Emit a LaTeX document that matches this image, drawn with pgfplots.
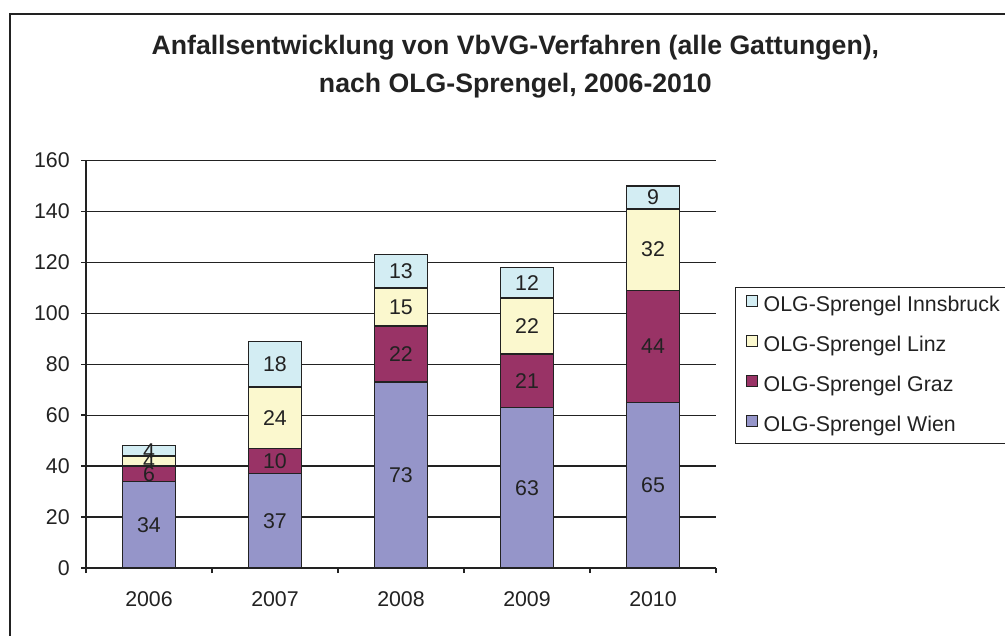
\documentclass[border=0pt]{standalone}
\usepackage{pgfplots}
\pgfplotsset{compat=1.18}
\usepackage{pgfplotstable}
\usepackage{fontspec}
\setmainfont{Liberation Sans}
\definecolor{cWien}{HTML}{9595C9}
\definecolor{cGraz}{HTML}{993366}
\definecolor{cLinz}{HTML}{FBF8CE}
\definecolor{cInn}{HTML}{D3EDF3}
\definecolor{ink}{HTML}{222222}
\pgfplotstableread{
x wien graz linz inn
0 34 6 4 4
1 37 10 24 18
2 73 22 15 13
3 63 21 22 12
4 65 44 32 9
}\datatable
\begin{document}
\begin{tikzpicture}
\clip (0pt,0pt) rectangle (753.75pt,476.25pt);
\fill[white] (0pt,0pt) rectangle (753.75pt,476.25pt);
\draw[ink, line width=1.5pt] (7.5pt,-10pt) rectangle (770pt,465.75pt);
\node[font=\bfseries\fontsize{20pt}{24pt}\selectfont, text=ink, anchor=base] at (386.5pt,435pt) {Anfallsentwicklung von VbVG-Verfahren (alle Gattungen),};
\node[font=\bfseries\fontsize{20pt}{24pt}\selectfont, text=ink, anchor=base] at (386.5pt,406.5pt) {nach OLG-Sprengel, 2006-2010};
\begin{axis}[
  at={(64.5pt,50.25pt)}, anchor=south west,
  scale only axis, width=472.5pt, height=305.625pt,
  ybar stacked, bar width=39.45pt,
  xmin=-0.5, xmax=4.5, ymin=0, ymax=160,
  ytick={0,20,...,160},
  xtick={-0.5,0.5,...,4.5}, xticklabels={},
  extra x ticks={0,1,2,3,4},
  extra x tick labels={2006,2007,2008,2009,2010},
  extra x tick style={major tick length=0pt, grid=none},
  axis x line*=bottom, axis y line*=left,
  axis line style={ink, line width=1.3pt, -},
  tick align=outside, major tick length=3.75pt,
  tick style={ink, line width=1.1pt},
  ymajorgrids, grid style={ink, line width=1.0pt},
  /pgf/number format/assume math mode=true,
  tick label style={font=\fontsize{16pt}{19pt}\selectfont, text=ink},
  yticklabel style={xshift=-5pt},
  xticklabel style={yshift=-14pt},
  nodes near coords={\pgfmathprintnumber{\val}},
  every node near coord/.append style={font=\fontsize{16pt}{19pt}\selectfont, text=ink, anchor=center},
  legend style={at={(486.75pt,210.75pt)}, anchor=north west, draw=ink, line width=0.8pt, fill=white,
     font=\fontsize{16pt}{19pt}\selectfont, text=ink, row sep=14.5pt, inner xsep=7.5pt, inner ysep=5.75pt,
     nodes={inner sep=0pt, text height=11.5pt, text depth=3pt, anchor=west},
     /tikz/every odd column/.append style={column sep=4.5pt}},
  legend cell align=left,
  reverse legend,
  area legend,
  legend image code/.code={\draw[#1, line width=0.9pt] (0pt,-0.5pt) rectangle (8.25pt,7.75pt);},
  clip=false,
]
\addplot[draw=ink, line width=1.1pt, fill=cWien, visualization depends on={\thisrow{wien} \as \val}] table[x=x, y=wien] {\datatable};
\addplot[draw=ink, line width=1.1pt, fill=cGraz, visualization depends on={\thisrow{graz} \as \val}] table[x=x, y=graz] {\datatable};
\addplot[draw=ink, line width=1.1pt, fill=cLinz, visualization depends on={\thisrow{linz} \as \val}] table[x=x, y=linz] {\datatable};
\addplot[draw=ink, line width=1.1pt, fill=cInn, visualization depends on={\thisrow{inn} \as \val}] table[x=x, y=inn] {\datatable};
\legend{OLG-Sprengel Wien, OLG-Sprengel Graz, OLG-Sprengel Linz, OLG-Sprengel Innsbruck}
\end{axis}
\end{tikzpicture}
\end{document}
